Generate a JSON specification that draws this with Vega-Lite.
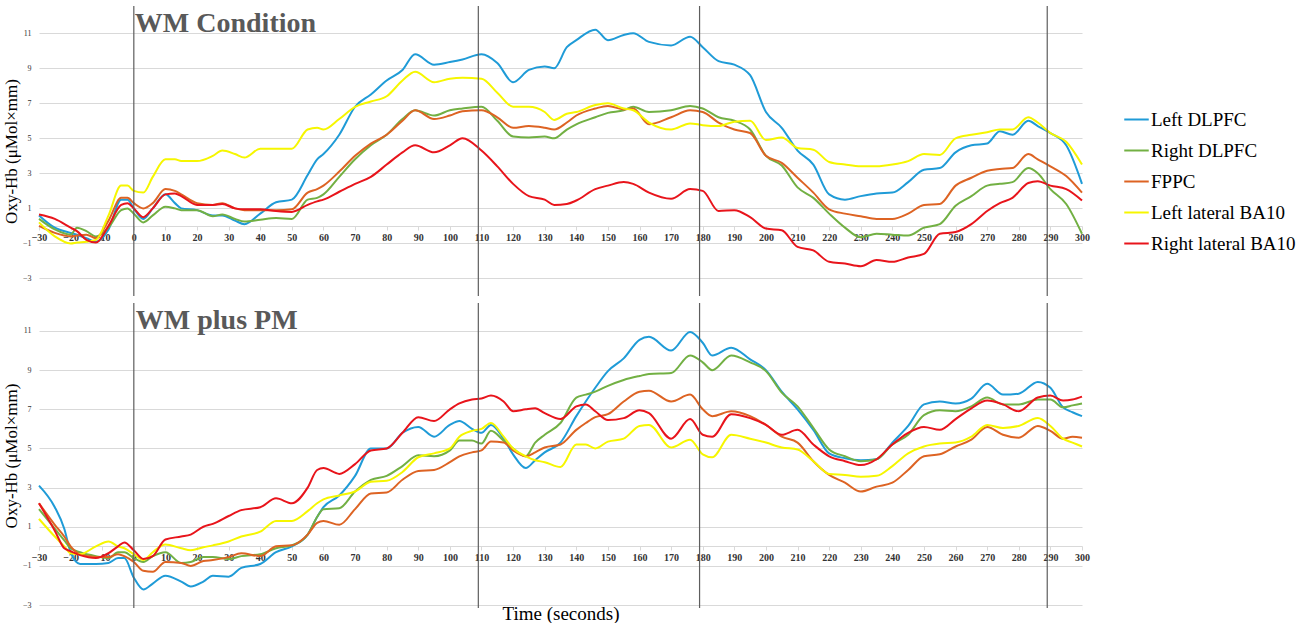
{
  "$schema": "https://vega.github.io/schema/vega-lite/v6.json",
  "padding": {"left": 2, "top": 5, "right": 3, "bottom": 0},
  "spacing": 5,
  "config": {
    "view": {"stroke": null},
    "font": "Liberation Serif",
    "axis": {"labelFont": "Liberation Serif", "titleFont": "Liberation Serif"},
    "legend": {"labelFont": "Liberation Serif"}
  },
  "datasets": {
    "wm": [
      {"t":-30,"Left DLPFC":0.6,"Right DLPFC":0.4,"FPPC":0.0,"Left lateral BA10":0.2,"Right lateral BA10":0.65},
      {"t":-25,"Left DLPFC":-0.1,"Right DLPFC":-0.2,"FPPC":-0.4,"Left lateral BA10":-0.6,"Right lateral BA10":0.4},
      {"t":-20,"Left DLPFC":-0.4,"Right DLPFC":-0.5,"FPPC":-0.6,"Left lateral BA10":-1.0,"Right lateral BA10":-0.1},
      {"t":-18,"Left DLPFC":-0.5,"Right DLPFC":-0.1,"FPPC":-0.55,"Left lateral BA10":-0.95,"Right lateral BA10":-0.3},
      {"t":-15,"Left DLPFC":-0.7,"Right DLPFC":-0.3,"FPPC":-0.5,"Left lateral BA10":-0.9,"Right lateral BA10":-0.8},
      {"t":-12,"Left DLPFC":-0.9,"Right DLPFC":-0.6,"FPPC":-0.7,"Left lateral BA10":-0.8,"Right lateral BA10":-0.95},
      {"t":-8,"Left DLPFC":-0.2,"Right DLPFC":-0.1,"FPPC":0.3,"Left lateral BA10":0.6,"Right lateral BA10":0.0},
      {"t":-4,"Left DLPFC":1.5,"Right DLPFC":0.9,"FPPC":1.6,"Left lateral BA10":2.3,"Right lateral BA10":1.2},
      {"t":-2,"Left DLPFC":1.5,"Right DLPFC":1.0,"FPPC":1.6,"Left lateral BA10":2.3,"Right lateral BA10":1.3},
      {"t":0,"Left DLPFC":1.0,"Right DLPFC":0.7,"FPPC":1.3,"Left lateral BA10":2.0,"Right lateral BA10":1.0},
      {"t":3,"Left DLPFC":0.4,"Right DLPFC":0.2,"FPPC":1.0,"Left lateral BA10":1.9,"Right lateral BA10":0.5},
      {"t":6,"Left DLPFC":1.0,"Right DLPFC":0.6,"FPPC":1.3,"Left lateral BA10":2.8,"Right lateral BA10":1.0},
      {"t":10,"Left DLPFC":1.8,"Right DLPFC":1.1,"FPPC":2.1,"Left lateral BA10":3.8,"Right lateral BA10":1.8},
      {"t":13,"Left DLPFC":1.3,"Right DLPFC":1.0,"FPPC":2.0,"Left lateral BA10":3.8,"Right lateral BA10":1.85},
      {"t":15,"Left DLPFC":1.0,"Right DLPFC":0.9,"FPPC":1.8,"Left lateral BA10":3.7,"Right lateral BA10":1.7},
      {"t":20,"Left DLPFC":0.9,"Right DLPFC":0.9,"FPPC":1.3,"Left lateral BA10":3.7,"Right lateral BA10":1.2},
      {"t":25,"Left DLPFC":0.6,"Right DLPFC":0.55,"FPPC":1.2,"Left lateral BA10":4.0,"Right lateral BA10":1.2},
      {"t":28,"Left DLPFC":0.6,"Right DLPFC":0.65,"FPPC":1.3,"Left lateral BA10":4.3,"Right lateral BA10":1.25},
      {"t":32,"Left DLPFC":0.3,"Right DLPFC":0.4,"FPPC":1.0,"Left lateral BA10":4.1,"Right lateral BA10":1.0},
      {"t":35,"Left DLPFC":0.1,"Right DLPFC":0.25,"FPPC":0.9,"Left lateral BA10":3.9,"Right lateral BA10":0.95},
      {"t":40,"Left DLPFC":0.7,"Right DLPFC":0.35,"FPPC":0.9,"Left lateral BA10":4.4,"Right lateral BA10":0.95},
      {"t":45,"Left DLPFC":1.35,"Right DLPFC":0.45,"FPPC":0.9,"Left lateral BA10":4.4,"Right lateral BA10":0.85},
      {"t":50,"Left DLPFC":1.5,"Right DLPFC":0.4,"FPPC":0.95,"Left lateral BA10":4.4,"Right lateral BA10":0.8},
      {"t":55,"Left DLPFC":2.9,"Right DLPFC":1.5,"FPPC":1.9,"Left lateral BA10":5.5,"Right lateral BA10":1.2},
      {"t":58,"Left DLPFC":3.8,"Right DLPFC":1.6,"FPPC":2.1,"Left lateral BA10":5.6,"Right lateral BA10":1.4},
      {"t":60,"Left DLPFC":4.1,"Right DLPFC":1.8,"FPPC":2.3,"Left lateral BA10":5.5,"Right lateral BA10":1.5},
      {"t":65,"Left DLPFC":5.2,"Right DLPFC":2.8,"FPPC":3.1,"Left lateral BA10":6.1,"Right lateral BA10":1.95},
      {"t":70,"Left DLPFC":6.8,"Right DLPFC":3.8,"FPPC":4.0,"Left lateral BA10":6.8,"Right lateral BA10":2.4},
      {"t":75,"Left DLPFC":7.5,"Right DLPFC":4.6,"FPPC":4.7,"Left lateral BA10":7.1,"Right lateral BA10":2.8},
      {"t":80,"Left DLPFC":8.3,"Right DLPFC":5.2,"FPPC":5.2,"Left lateral BA10":7.4,"Right lateral BA10":3.5},
      {"t":85,"Left DLPFC":8.9,"Right DLPFC":6.1,"FPPC":6.0,"Left lateral BA10":8.3,"Right lateral BA10":4.2},
      {"t":89,"Left DLPFC":9.8,"Right DLPFC":6.6,"FPPC":6.6,"Left lateral BA10":8.8,"Right lateral BA10":4.6},
      {"t":95,"Left DLPFC":9.2,"Right DLPFC":6.3,"FPPC":6.1,"Left lateral BA10":8.2,"Right lateral BA10":4.2},
      {"t":100,"Left DLPFC":9.35,"Right DLPFC":6.6,"FPPC":6.3,"Left lateral BA10":8.4,"Right lateral BA10":4.6},
      {"t":104,"Left DLPFC":9.5,"Right DLPFC":6.7,"FPPC":6.55,"Left lateral BA10":8.45,"Right lateral BA10":5.0},
      {"t":110,"Left DLPFC":9.8,"Right DLPFC":6.8,"FPPC":6.6,"Left lateral BA10":8.4,"Right lateral BA10":4.3},
      {"t":115,"Left DLPFC":9.3,"Right DLPFC":6.0,"FPPC":6.2,"Left lateral BA10":7.6,"Right lateral BA10":3.4},
      {"t":120,"Left DLPFC":8.2,"Right DLPFC":5.1,"FPPC":5.6,"Left lateral BA10":6.8,"Right lateral BA10":2.4},
      {"t":125,"Left DLPFC":8.9,"Right DLPFC":5.05,"FPPC":5.7,"Left lateral BA10":6.8,"Right lateral BA10":1.7},
      {"t":130,"Left DLPFC":9.1,"Right DLPFC":5.1,"FPPC":5.6,"Left lateral BA10":6.5,"Right lateral BA10":1.5},
      {"t":133,"Left DLPFC":9.0,"Right DLPFC":5.0,"FPPC":5.5,"Left lateral BA10":6.05,"Right lateral BA10":1.2},
      {"t":137,"Left DLPFC":10.2,"Right DLPFC":5.5,"FPPC":5.9,"Left lateral BA10":6.4,"Right lateral BA10":1.25},
      {"t":140,"Left DLPFC":10.6,"Right DLPFC":5.8,"FPPC":6.3,"Left lateral BA10":6.5,"Right lateral BA10":1.45},
      {"t":146,"Left DLPFC":11.2,"Right DLPFC":6.2,"FPPC":6.7,"Left lateral BA10":6.9,"Right lateral BA10":2.1},
      {"t":150,"Left DLPFC":10.6,"Right DLPFC":6.45,"FPPC":6.85,"Left lateral BA10":7.0,"Right lateral BA10":2.3},
      {"t":155,"Left DLPFC":10.9,"Right DLPFC":6.6,"FPPC":6.65,"Left lateral BA10":6.7,"Right lateral BA10":2.5},
      {"t":158,"Left DLPFC":11.0,"Right DLPFC":6.8,"FPPC":6.7,"Left lateral BA10":6.6,"Right lateral BA10":2.4},
      {"t":163,"Left DLPFC":10.5,"Right DLPFC":6.5,"FPPC":5.8,"Left lateral BA10":5.9,"Right lateral BA10":1.9},
      {"t":170,"Left DLPFC":10.3,"Right DLPFC":6.6,"FPPC":6.2,"Left lateral BA10":5.5,"Right lateral BA10":1.55},
      {"t":176,"Left DLPFC":10.8,"Right DLPFC":6.85,"FPPC":6.6,"Left lateral BA10":5.85,"Right lateral BA10":2.1},
      {"t":180,"Left DLPFC":10.2,"Right DLPFC":6.7,"FPPC":6.5,"Left lateral BA10":5.75,"Right lateral BA10":2.0},
      {"t":185,"Left DLPFC":9.4,"Right DLPFC":6.2,"FPPC":5.9,"Left lateral BA10":5.7,"Right lateral BA10":0.85},
      {"t":190,"Left DLPFC":9.2,"Right DLPFC":6.0,"FPPC":5.5,"Left lateral BA10":5.95,"Right lateral BA10":0.9},
      {"t":195,"Left DLPFC":8.6,"Right DLPFC":5.5,"FPPC":5.3,"Left lateral BA10":6.0,"Right lateral BA10":0.5},
      {"t":200,"Left DLPFC":6.5,"Right DLPFC":4.0,"FPPC":4.0,"Left lateral BA10":4.9,"Right lateral BA10":-0.15},
      {"t":205,"Left DLPFC":5.6,"Right DLPFC":3.45,"FPPC":3.6,"Left lateral BA10":5.05,"Right lateral BA10":-0.25},
      {"t":210,"Left DLPFC":4.3,"Right DLPFC":2.2,"FPPC":2.75,"Left lateral BA10":4.45,"Right lateral BA10":-1.2},
      {"t":215,"Left DLPFC":3.5,"Right DLPFC":1.6,"FPPC":1.9,"Left lateral BA10":4.35,"Right lateral BA10":-1.4},
      {"t":220,"Left DLPFC":1.8,"Right DLPFC":0.7,"FPPC":0.95,"Left lateral BA10":3.65,"Right lateral BA10":-2.05},
      {"t":225,"Left DLPFC":1.5,"Right DLPFC":-0.1,"FPPC":0.7,"Left lateral BA10":3.5,"Right lateral BA10":-2.15},
      {"t":230,"Left DLPFC":1.7,"Right DLPFC":-0.65,"FPPC":0.55,"Left lateral BA10":3.4,"Right lateral BA10":-2.3},
      {"t":235,"Left DLPFC":1.85,"Right DLPFC":-0.45,"FPPC":0.4,"Left lateral BA10":3.4,"Right lateral BA10":-1.95},
      {"t":240,"Left DLPFC":1.9,"Right DLPFC":-0.5,"FPPC":0.4,"Left lateral BA10":3.5,"Right lateral BA10":-2.05},
      {"t":245,"Left DLPFC":2.5,"Right DLPFC":-0.55,"FPPC":0.7,"Left lateral BA10":3.7,"Right lateral BA10":-1.8},
      {"t":250,"Left DLPFC":3.2,"Right DLPFC":-0.1,"FPPC":1.2,"Left lateral BA10":4.1,"Right lateral BA10":-1.6},
      {"t":255,"Left DLPFC":3.3,"Right DLPFC":0.1,"FPPC":1.25,"Left lateral BA10":4.05,"Right lateral BA10":-0.45},
      {"t":260,"Left DLPFC":4.2,"Right DLPFC":1.15,"FPPC":2.3,"Left lateral BA10":5.0,"Right lateral BA10":-0.35},
      {"t":265,"Left DLPFC":4.6,"Right DLPFC":1.7,"FPPC":2.75,"Left lateral BA10":5.2,"Right lateral BA10":0.1},
      {"t":270,"Left DLPFC":4.7,"Right DLPFC":2.3,"FPPC":3.15,"Left lateral BA10":5.35,"Right lateral BA10":0.85},
      {"t":274,"Left DLPFC":5.4,"Right DLPFC":2.4,"FPPC":3.25,"Left lateral BA10":5.5,"Right lateral BA10":1.3},
      {"t":278,"Left DLPFC":5.2,"Right DLPFC":2.5,"FPPC":3.3,"Left lateral BA10":5.5,"Right lateral BA10":1.6},
      {"t":283,"Left DLPFC":6.0,"Right DLPFC":3.3,"FPPC":4.1,"Left lateral BA10":6.2,"Right lateral BA10":2.45},
      {"t":286,"Left DLPFC":5.7,"Right DLPFC":3.0,"FPPC":3.8,"Left lateral BA10":5.9,"Right lateral BA10":2.55},
      {"t":290,"Left DLPFC":5.3,"Right DLPFC":2.1,"FPPC":3.4,"Left lateral BA10":5.3,"Right lateral BA10":2.3},
      {"t":295,"Left DLPFC":4.6,"Right DLPFC":1.25,"FPPC":2.85,"Left lateral BA10":4.8,"Right lateral BA10":2.1},
      {"t":300,"Left DLPFC":2.4,"Right DLPFC":-0.45,"FPPC":1.9,"Left lateral BA10":3.5,"Right lateral BA10":1.45}
    ],
    "wmpm": [
      {"t":-30,"Left DLPFC":3.1,"Right DLPFC":1.9,"FPPC":2.2,"Left lateral BA10":1.4,"Right lateral BA10":2.2},
      {"t":-25,"Left DLPFC":2.0,"Right DLPFC":0.9,"FPPC":1.1,"Left lateral BA10":0.5,"Right lateral BA10":0.8},
      {"t":-22,"Left DLPFC":0.9,"Right DLPFC":0.3,"FPPC":0.5,"Left lateral BA10":0.0,"Right lateral BA10":-0.1},
      {"t":-20,"Left DLPFC":-0.3,"Right DLPFC":-0.1,"FPPC":0.0,"Left lateral BA10":-0.35,"Right lateral BA10":-0.25},
      {"t":-17,"Left DLPFC":-0.9,"Right DLPFC":-0.3,"FPPC":-0.4,"Left lateral BA10":-0.4,"Right lateral BA10":-0.45},
      {"t":-12,"Left DLPFC":-0.9,"Right DLPFC":-0.5,"FPPC":-0.55,"Left lateral BA10":0.0,"Right lateral BA10":-0.6},
      {"t":-8,"Left DLPFC":-0.85,"Right DLPFC":-0.6,"FPPC":-0.55,"Left lateral BA10":0.25,"Right lateral BA10":-0.35},
      {"t":-5,"Left DLPFC":-0.6,"Right DLPFC":-0.3,"FPPC":-0.4,"Left lateral BA10":0.0,"Right lateral BA10":0.0},
      {"t":-3,"Left DLPFC":-0.6,"Right DLPFC":-0.3,"FPPC":-0.5,"Left lateral BA10":-0.1,"Right lateral BA10":0.2},
      {"t":0,"Left DLPFC":-1.6,"Right DLPFC":-0.6,"FPPC":-0.8,"Left lateral BA10":-0.4,"Right lateral BA10":-0.2},
      {"t":3,"Left DLPFC":-2.2,"Right DLPFC":-0.8,"FPPC":-1.25,"Left lateral BA10":-0.7,"Right lateral BA10":-0.65},
      {"t":6,"Left DLPFC":-1.9,"Right DLPFC":-0.5,"FPPC":-1.3,"Left lateral BA10":-0.3,"Right lateral BA10":-0.5},
      {"t":10,"Left DLPFC":-1.5,"Right DLPFC":-0.3,"FPPC":-0.8,"Left lateral BA10":0.1,"Right lateral BA10":0.35},
      {"t":15,"Left DLPFC":-1.8,"Right DLPFC":-0.85,"FPPC":-0.85,"Left lateral BA10":-0.1,"Right lateral BA10":0.5},
      {"t":18,"Left DLPFC":-2.05,"Right DLPFC":-0.8,"FPPC":-1.0,"Left lateral BA10":-0.2,"Right lateral BA10":0.6},
      {"t":22,"Left DLPFC":-1.8,"Right DLPFC":-0.55,"FPPC":-0.75,"Left lateral BA10":-0.05,"Right lateral BA10":1.0},
      {"t":25,"Left DLPFC":-1.5,"Right DLPFC":-0.55,"FPPC":-0.7,"Left lateral BA10":0.05,"Right lateral BA10":1.15},
      {"t":30,"Left DLPFC":-1.55,"Right DLPFC":-0.65,"FPPC":-0.55,"Left lateral BA10":0.25,"Right lateral BA10":1.55},
      {"t":34,"Left DLPFC":-1.1,"Right DLPFC":-0.5,"FPPC":-0.35,"Left lateral BA10":0.5,"Right lateral BA10":1.85},
      {"t":40,"Left DLPFC":-0.9,"Right DLPFC":-0.4,"FPPC":-0.5,"Left lateral BA10":0.75,"Right lateral BA10":2.0},
      {"t":45,"Left DLPFC":-0.3,"Right DLPFC":-0.1,"FPPC":0.0,"Left lateral BA10":1.3,"Right lateral BA10":2.45},
      {"t":50,"Left DLPFC":0.0,"Right DLPFC":0.05,"FPPC":0.05,"Left lateral BA10":1.3,"Right lateral BA10":2.2},
      {"t":55,"Left DLPFC":0.6,"Right DLPFC":0.6,"FPPC":0.6,"Left lateral BA10":1.8,"Right lateral BA10":3.0},
      {"t":58,"Left DLPFC":1.5,"Right DLPFC":1.5,"FPPC":1.2,"Left lateral BA10":2.2,"Right lateral BA10":3.9},
      {"t":60,"Left DLPFC":2.0,"Right DLPFC":1.9,"FPPC":1.3,"Left lateral BA10":2.4,"Right lateral BA10":4.0},
      {"t":65,"Left DLPFC":2.6,"Right DLPFC":1.95,"FPPC":1.1,"Left lateral BA10":2.6,"Right lateral BA10":3.7},
      {"t":70,"Left DLPFC":3.6,"Right DLPFC":2.8,"FPPC":1.9,"Left lateral BA10":2.8,"Right lateral BA10":4.2},
      {"t":75,"Left DLPFC":5.0,"Right DLPFC":3.4,"FPPC":2.7,"Left lateral BA10":3.3,"Right lateral BA10":4.9},
      {"t":80,"Left DLPFC":5.0,"Right DLPFC":3.6,"FPPC":2.75,"Left lateral BA10":3.35,"Right lateral BA10":5.0},
      {"t":85,"Left DLPFC":5.8,"Right DLPFC":4.1,"FPPC":3.4,"Left lateral BA10":3.8,"Right lateral BA10":5.8},
      {"t":90,"Left DLPFC":6.1,"Right DLPFC":4.65,"FPPC":3.85,"Left lateral BA10":4.55,"Right lateral BA10":6.6},
      {"t":95,"Left DLPFC":5.6,"Right DLPFC":4.6,"FPPC":3.9,"Left lateral BA10":4.75,"Right lateral BA10":6.4},
      {"t":100,"Left DLPFC":6.2,"Right DLPFC":4.9,"FPPC":4.3,"Left lateral BA10":5.0,"Right lateral BA10":7.0},
      {"t":103,"Left DLPFC":6.4,"Right DLPFC":5.4,"FPPC":4.6,"Left lateral BA10":5.6,"Right lateral BA10":7.3},
      {"t":107,"Left DLPFC":6.0,"Right DLPFC":5.4,"FPPC":4.8,"Left lateral BA10":5.9,"Right lateral BA10":7.5},
      {"t":110,"Left DLPFC":5.8,"Right DLPFC":5.25,"FPPC":4.9,"Left lateral BA10":6.0,"Right lateral BA10":7.55},
      {"t":113,"Left DLPFC":6.2,"Right DLPFC":5.9,"FPPC":5.35,"Left lateral BA10":6.3,"Right lateral BA10":7.7},
      {"t":117,"Left DLPFC":5.5,"Right DLPFC":5.4,"FPPC":5.3,"Left lateral BA10":5.6,"Right lateral BA10":7.4},
      {"t":120,"Left DLPFC":4.7,"Right DLPFC":5.0,"FPPC":4.9,"Left lateral BA10":5.0,"Right lateral BA10":6.9},
      {"t":124,"Left DLPFC":4.0,"Right DLPFC":4.6,"FPPC":4.6,"Left lateral BA10":4.6,"Right lateral BA10":7.0},
      {"t":127,"Left DLPFC":4.4,"Right DLPFC":5.3,"FPPC":4.8,"Left lateral BA10":4.4,"Right lateral BA10":7.05},
      {"t":130,"Left DLPFC":4.8,"Right DLPFC":5.7,"FPPC":5.05,"Left lateral BA10":4.3,"Right lateral BA10":6.8},
      {"t":135,"Left DLPFC":5.3,"Right DLPFC":6.3,"FPPC":5.2,"Left lateral BA10":4.05,"Right lateral BA10":6.5},
      {"t":140,"Left DLPFC":6.65,"Right DLPFC":7.6,"FPPC":5.95,"Left lateral BA10":5.2,"Right lateral BA10":7.15},
      {"t":143,"Left DLPFC":7.4,"Right DLPFC":7.75,"FPPC":6.3,"Left lateral BA10":5.2,"Right lateral BA10":7.25},
      {"t":146,"Left DLPFC":8.1,"Right DLPFC":7.9,"FPPC":6.6,"Left lateral BA10":5.0,"Right lateral BA10":6.9},
      {"t":150,"Left DLPFC":8.95,"Right DLPFC":8.2,"FPPC":6.75,"Left lateral BA10":5.35,"Right lateral BA10":6.45},
      {"t":155,"Left DLPFC":9.6,"Right DLPFC":8.5,"FPPC":7.4,"Left lateral BA10":5.5,"Right lateral BA10":6.55},
      {"t":160,"Left DLPFC":10.55,"Right DLPFC":8.7,"FPPC":7.9,"Left lateral BA10":6.15,"Right lateral BA10":6.95},
      {"t":163,"Left DLPFC":10.7,"Right DLPFC":8.8,"FPPC":7.95,"Left lateral BA10":6.2,"Right lateral BA10":6.8},
      {"t":170,"Left DLPFC":10.0,"Right DLPFC":8.85,"FPPC":7.4,"Left lateral BA10":5.05,"Right lateral BA10":5.5},
      {"t":176,"Left DLPFC":10.95,"Right DLPFC":9.75,"FPPC":7.75,"Left lateral BA10":5.45,"Right lateral BA10":6.5},
      {"t":180,"Left DLPFC":10.4,"Right DLPFC":9.4,"FPPC":7.0,"Left lateral BA10":4.7,"Right lateral BA10":5.7},
      {"t":183,"Left DLPFC":9.75,"Right DLPFC":9.0,"FPPC":6.65,"Left lateral BA10":4.55,"Right lateral BA10":5.6},
      {"t":189,"Left DLPFC":10.15,"Right DLPFC":9.75,"FPPC":6.9,"Left lateral BA10":5.7,"Right lateral BA10":6.75},
      {"t":195,"Left DLPFC":9.55,"Right DLPFC":9.4,"FPPC":6.65,"Left lateral BA10":5.5,"Right lateral BA10":6.55},
      {"t":200,"Left DLPFC":9.0,"Right DLPFC":8.95,"FPPC":6.2,"Left lateral BA10":5.3,"Right lateral BA10":6.2},
      {"t":205,"Left DLPFC":7.9,"Right DLPFC":7.85,"FPPC":5.6,"Left lateral BA10":5.05,"Right lateral BA10":5.7},
      {"t":210,"Left DLPFC":7.0,"Right DLPFC":7.15,"FPPC":5.3,"Left lateral BA10":4.95,"Right lateral BA10":5.95},
      {"t":215,"Left DLPFC":5.95,"Right DLPFC":6.05,"FPPC":4.35,"Left lateral BA10":4.35,"Right lateral BA10":5.2},
      {"t":220,"Left DLPFC":4.75,"Right DLPFC":4.95,"FPPC":3.65,"Left lateral BA10":3.7,"Right lateral BA10":4.6},
      {"t":225,"Left DLPFC":4.5,"Right DLPFC":4.6,"FPPC":3.25,"Left lateral BA10":3.65,"Right lateral BA10":4.35},
      {"t":230,"Left DLPFC":4.4,"Right DLPFC":4.35,"FPPC":2.8,"Left lateral BA10":3.55,"Right lateral BA10":4.15},
      {"t":235,"Left DLPFC":4.45,"Right DLPFC":4.45,"FPPC":3.05,"Left lateral BA10":3.6,"Right lateral BA10":4.45},
      {"t":240,"Left DLPFC":5.3,"Right DLPFC":5.2,"FPPC":3.25,"Left lateral BA10":4.1,"Right lateral BA10":5.2},
      {"t":245,"Left DLPFC":6.15,"Right DLPFC":5.7,"FPPC":3.9,"Left lateral BA10":4.75,"Right lateral BA10":5.8},
      {"t":250,"Left DLPFC":7.25,"Right DLPFC":6.7,"FPPC":4.6,"Left lateral BA10":5.1,"Right lateral BA10":6.1},
      {"t":255,"Left DLPFC":7.4,"Right DLPFC":6.95,"FPPC":4.7,"Left lateral BA10":5.25,"Right lateral BA10":5.95},
      {"t":260,"Left DLPFC":7.3,"Right DLPFC":6.9,"FPPC":5.1,"Left lateral BA10":5.3,"Right lateral BA10":6.5},
      {"t":265,"Left DLPFC":7.55,"Right DLPFC":7.15,"FPPC":5.45,"Left lateral BA10":5.6,"Right lateral BA10":7.05},
      {"t":270,"Left DLPFC":8.3,"Right DLPFC":7.6,"FPPC":6.1,"Left lateral BA10":6.2,"Right lateral BA10":7.45},
      {"t":275,"Left DLPFC":7.75,"Right DLPFC":7.25,"FPPC":5.7,"Left lateral BA10":6.05,"Right lateral BA10":7.25},
      {"t":280,"Left DLPFC":7.8,"Right DLPFC":7.25,"FPPC":5.55,"Left lateral BA10":6.15,"Right lateral BA10":6.9},
      {"t":286,"Left DLPFC":8.4,"Right DLPFC":7.5,"FPPC":6.15,"Left lateral BA10":6.55,"Right lateral BA10":7.6},
      {"t":290,"Left DLPFC":8.1,"Right DLPFC":7.5,"FPPC":5.9,"Left lateral BA10":6.15,"Right lateral BA10":7.7},
      {"t":294,"Left DLPFC":7.1,"Right DLPFC":7.1,"FPPC":5.5,"Left lateral BA10":5.5,"Right lateral BA10":7.45},
      {"t":297,"Left DLPFC":6.85,"Right DLPFC":7.2,"FPPC":5.6,"Left lateral BA10":5.3,"Right lateral BA10":7.5},
      {"t":300,"Left DLPFC":6.65,"Right DLPFC":7.3,"FPPC":5.55,"Left lateral BA10":5.1,"Right lateral BA10":7.65}
    ],
    "markers": [{"t": 0}, {"t": 109}, {"t": 179}, {"t": 289}]
  },
  "vconcat": [
    {
      "width": 1043,
      "height": 290,
      "encoding": {
        "x": {
          "field": "t", "type": "quantitative",
          "scale": {"domain": [-30, 300], "nice": false, "zero": false},
          "axis": {
            "title": null, "offset": -70, "grid": false, "tickCount": 33,
            "domainColor": "#d9d9d9", "tickColor": "#d9d9d9", "tickSize": 4,
            "labelFontSize": 10, "labelFontWeight": "bold", "labelColor": "#333333",
            "labelPadding": 2, "labelFlush": false, "labelOverlap": false, "labelBound": false
          }
        }
      },
      "layer": [
        {
          "data": {"name": "wm"},
          "transform": [
            {"fold": ["Left DLPFC", "Right DLPFC", "FPPC", "Left lateral BA10", "Right lateral BA10"], "as": ["Region", "Oxy"]}
          ],
          "mark": {"type": "line", "interpolate": "monotone", "strokeWidth": 2},
          "encoding": {
            "y": {
              "field": "Oxy", "type": "quantitative",
              "scale": {"domain": [-4, 12.55], "nice": false, "zero": false},
              "axis": {
                "title": "Oxy-Hb (μMol×mm)", "values": [-3, -1, 1, 3, 5, 7, 9, 11],
                "grid": true, "gridColor": "#d9d9d9", "domain": false, "ticks": false,
                "labelFontSize": 8, "labelColor": "#333333", "labelPadding": 8,
                "titleFontSize": 17, "titleFontWeight": "normal", "titleColor": "#000000", "titlePadding": 2
              }
            },
            "color": {
              "field": "Region", "type": "nominal",
              "scale": {
                "domain": ["Left DLPFC", "Right DLPFC", "FPPC", "Left lateral BA10", "Right lateral BA10"],
                "range": ["#1f9bd7", "#72b043", "#dd6323", "#f6f600", "#e8141b"]
              },
              "legend": {
                "title": null, "orient": "none", "legendX": 1084, "legendY": 100,
                "symbolType": "stroke", "symbolSize": 600, "symbolStrokeWidth": 2,
                "labelFontSize": 19, "labelColor": "#000000", "labelOffset": 1, "rowPadding": 7
              }
            }
          }
        },
        {
          "data": {"name": "markers"},
          "mark": {"type": "rule", "color": "#5e5e5e", "strokeWidth": 1.2}
        },
        {
          "data": {"values": [{"t": 0, "label": "WM Condition"}]},
          "mark": {"type": "text", "align": "left", "baseline": "middle", "dx": 1, "fontSize": 28, "fontWeight": "bold", "font": "Liberation Serif", "color": "#595959"},
          "encoding": {
            "y": {"datum": 11.55, "type": "quantitative"},
            "text": {"field": "label", "type": "nominal"}
          }
        }
      ]
    },
    {
      "width": 1043,
      "height": 305,
      "encoding": {
        "x": {
          "field": "t", "type": "quantitative",
          "scale": {"domain": [-30, 300], "nice": false, "zero": false},
          "axis": {
            "title": "Time (seconds)", "offset": -62, "grid": false, "tickCount": 33,
            "domainColor": "#d9d9d9", "tickColor": "#d9d9d9", "tickSize": 4,
            "labelFontSize": 10, "labelFontWeight": "bold", "labelColor": "#333333",
            "labelPadding": 2, "labelFlush": false, "labelOverlap": false, "labelBound": false,
            "titleFontSize": 19, "titleFontWeight": "normal", "titleColor": "#000000", "titleY": 58
          }
        }
      },
      "layer": [
        {
          "data": {"name": "wmpm"},
          "transform": [
            {"fold": ["Left DLPFC", "Right DLPFC", "FPPC", "Left lateral BA10", "Right lateral BA10"], "as": ["Region", "Oxy"]}
          ],
          "mark": {"type": "line", "interpolate": "monotone", "strokeWidth": 2},
          "encoding": {
            "y": {
              "field": "Oxy", "type": "quantitative",
              "scale": {"domain": [-3.15, 12.43], "nice": false, "zero": false},
              "axis": {
                "title": "Oxy-Hb (μMol×mm)", "values": [-3, -1, 1, 3, 5, 7, 9, 11],
                "grid": true, "gridColor": "#d9d9d9", "domain": false, "ticks": false,
                "labelFontSize": 8, "labelColor": "#333333", "labelPadding": 8,
                "titleFontSize": 17, "titleFontWeight": "normal", "titleColor": "#000000", "titlePadding": 2
              }
            },
            "color": {"field": "Region", "type": "nominal"}
          }
        },
        {
          "data": {"name": "markers"},
          "mark": {"type": "rule", "color": "#5e5e5e", "strokeWidth": 1.2}
        },
        {
          "data": {"values": [{"t": 0, "label": "WM plus PM"}]},
          "mark": {"type": "text", "align": "left", "baseline": "middle", "dx": 2, "fontSize": 28, "fontWeight": "bold", "font": "Liberation Serif", "color": "#595959"},
          "encoding": {
            "y": {"datum": 11.5, "type": "quantitative"},
            "text": {"field": "label", "type": "nominal"}
          }
        }
      ]
    }
  ]
}
